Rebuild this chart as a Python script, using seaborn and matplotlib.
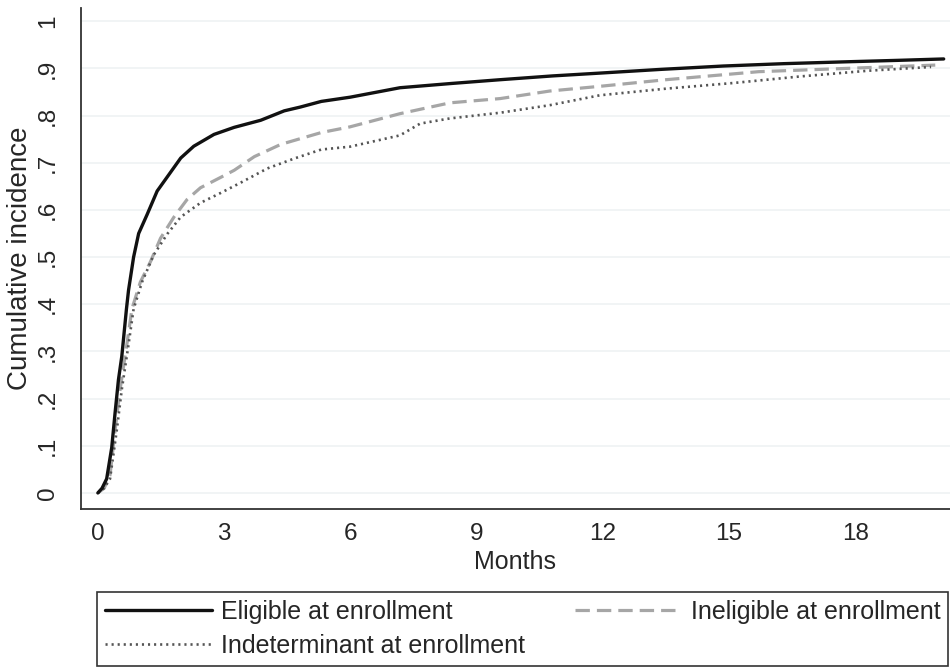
import numpy as np
import pandas as pd
import matplotlib
matplotlib.use("Agg")
import matplotlib.pyplot as plt
import seaborn as sns

# ---- data ----
elig_t = [0, 0.1, 0.21, 0.33, 0.41, 0.49, 0.57, 0.68, 0.73, 0.85, 0.97, 1.17, 1.41, 1.65, 1.97,
          2.28, 2.76, 3.24, 3.87, 4.43, 4.81, 5.31, 6.0, 7.18, 8.4, 9.56, 10.8, 11.93, 13.4,
          14.86, 16.3, 17.8, 19.0, 20.1]
elig_v = [0, 0.01, 0.03, 0.096, 0.17, 0.24, 0.29, 0.39, 0.43, 0.50, 0.55, 0.59, 0.64, 0.67, 0.71,
          0.735, 0.76, 0.775, 0.79, 0.81, 0.818, 0.83, 0.839, 0.859, 0.868, 0.876, 0.884, 0.890, 0.898,
          0.905, 0.910, 0.914, 0.917, 0.92]

inel_t = [0, 0.15, 0.29, 0.41, 0.53, 0.69, 0.81, 1.01, 1.25, 1.49, 1.81, 2.12, 2.44, 2.92, 3.24,
          3.72, 4.35, 4.81, 5.31, 5.99, 7.18, 8.37, 9.56, 10.74, 11.93, 13.5, 15.7, 17.8, 19.9]
inel_v = [0, 0.01, 0.038, 0.133, 0.22, 0.315, 0.39, 0.447, 0.49, 0.54, 0.585, 0.622, 0.647, 0.669, 0.684,
          0.713, 0.739, 0.751, 0.764, 0.776, 0.804, 0.827, 0.836, 0.852, 0.862, 0.876, 0.893, 0.900, 0.907]

indet_t = [0, 0.15, 0.29, 0.45, 0.57, 0.73, 0.85, 1.05, 1.33, 1.65, 1.97, 2.44, 2.92, 3.40, 4.03,
           4.67, 5.31, 5.99, 7.18, 7.66, 8.37, 9.56, 10.74, 11.93, 13.5, 15.1, 16.7, 18.3, 19.8]
indet_v = [0, 0.01, 0.03, 0.133, 0.22, 0.315, 0.39, 0.447, 0.505, 0.549, 0.585, 0.615, 0.636, 0.658, 0.688,
           0.709, 0.728, 0.734, 0.758, 0.783, 0.794, 0.806, 0.822, 0.843, 0.857, 0.869, 0.883, 0.895, 0.903]

labels = ["Eligible at enrollment", "Ineligible at enrollment", "Indeterminant at enrollment"]
x_ticks = [0, 3, 6, 9, 12, 15, 18]
y_ticks = [0, 0.1, 0.2, 0.3, 0.4, 0.5, 0.6, 0.7, 0.8, 0.9, 1.0]
y_tick_labels = ["0", ".1", ".2", ".3", ".4", ".5", ".6", ".7", ".8", ".9", "1"]

# ---- style ----
sns.set_style("white")
plt.rcParams["font.family"] = ["Liberation Sans", "DejaVu Sans"]
FS_TICK = 17.5
FS_XLAB = 18
FS_YLAB = 20
FS_LEG = 18
TXT = "#262626"

fig = plt.figure(figsize=(9.5, 6.72), dpi=100)
ax = fig.add_axes([81 / 950, 1 - 509 / 672, (950 - 81) / 950, (509 - 8) / 672])

for yv in y_ticks:
    ax.axhline(yv, color="#edf1f3", lw=1.1, zorder=0)

df_e = pd.DataFrame({"t": elig_t, "v": elig_v})
df_i = pd.DataFrame({"t": inel_t, "v": inel_v})
df_d = pd.DataFrame({"t": indet_t, "v": indet_v})

sns.lineplot(data=df_i, x="t", y="v", ax=ax, color="#a6a6a6", lw=2.3,
             linestyle=(0, (4.5, 2.2)), label=labels[1], sort=False)
sns.lineplot(data=df_d, x="t", y="v", ax=ax, color="#555555", lw=1.9,
             linestyle=(0, (0.8, 1.5)), label=labels[2], sort=False)
sns.lineplot(data=df_e, x="t", y="v", ax=ax, color="#111111", lw=2.4,
             linestyle="-", label=labels[0], sort=False)

ax.set_xlim(-0.40, 20.25)
ax.set_ylim(-0.034, 1.028)
ax.set_xticks(x_ticks)
ax.set_xticklabels([str(v) for v in x_ticks], fontsize=FS_TICK, color=TXT)
ax.set_yticks(y_ticks)
ax.set_yticklabels(y_tick_labels, fontsize=FS_TICK, rotation=90, va="center", color=TXT)
ax.tick_params(axis="both", direction="out", length=8, width=1.1, color="#333333")
ax.tick_params(axis="y", pad=8)
ax.tick_params(axis="x", pad=2)
for s in ["top", "right"]:
    ax.spines[s].set_visible(False)
for s in ["left", "bottom"]:
    ax.spines[s].set_color("#333333")
    ax.spines[s].set_linewidth(1.3)

ax.set_xlabel("Months", fontsize=FS_XLAB, color=TXT, labelpad=4)
ax.set_ylabel("Cumulative incidence", fontsize=FS_YLAB, color=TXT, labelpad=3)

leg = ax.get_legend()
handles, labs = ax.get_legend_handles_labels()
if leg is not None:
    leg.remove()
order = [labs.index(labels[0]), labs.index(labels[2]), labs.index(labels[1])]
fig.legend([handles[k] for k in order], [labs[k] for k in order],
           loc="upper left", bbox_to_anchor=(97 / 950, 1 - 592 / 672, (948 - 97) / 950, 0.0),
           mode="expand", ncol=2, fontsize=FS_LEG, frameon=True, fancybox=False,
           edgecolor="#333333", framealpha=1, handlelength=4.3, handletextpad=0.35,
           borderpad=0.3, labelspacing=0.42, borderaxespad=0.0, columnspacing=2.0)
leg2 = fig.legends[-1]
leg2.get_frame().set_linewidth(1.2)
for t in leg2.get_texts():
    t.set_color(TXT)

fig.savefig("out.png", dpi=100)
